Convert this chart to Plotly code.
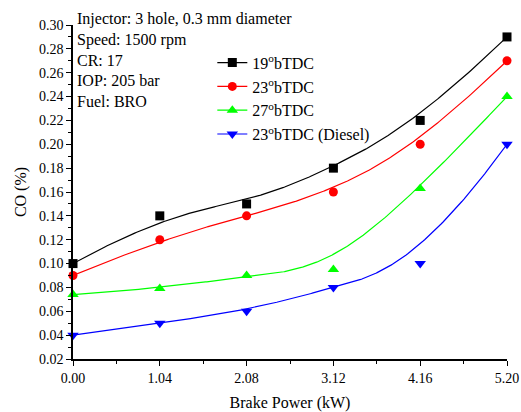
import numpy as np
import plotly.graph_objects as go

# Brake power (kW) and CO emissions (%) for each injection timing
brake_power = [0.00, 1.04, 2.08, 3.12, 4.16, 5.20]
co_19_btdc = [0.10, 0.14, 0.15, 0.18, 0.22, 0.29]
co_23_btdc = [0.09, 0.12, 0.14, 0.16, 0.20, 0.27]
co_27_btdc = [0.074, 0.079, 0.090, 0.095, 0.163, 0.24]
co_23_diesel = [0.04, 0.05, 0.06, 0.08, 0.10, 0.20]

series_names = ["19<sup>o</sup>bTDC", "23<sup>o</sup>bTDC",
                "27<sup>o</sup>bTDC", "23<sup>o</sup>bTDC (Diesel)"]
series_values = [co_19_btdc, co_23_btdc, co_27_btdc, co_23_diesel]
series_colors = ["#000000", "#FF0000", "#00FF00", "#0000FF"]
series_symbols = ["square", "circle", "triangle-up", "triangle-down"]

x_ticks = [0.00, 1.04, 2.08, 3.12, 4.16, 5.20]

info_lines = ["Injector: 3 hole, 0.3 mm diameter", "Speed: 1500 rpm",
              "CR: 17", "IOP: 205 bar", "Fuel: BRO"]

FONT = "Liberation Serif"


def clamped_bspline(xs, ys, degree=3, samples=300):
    """Cubic B-spline using the data points as control points."""
    pts = np.column_stack([xs, ys]).astype(float)
    m = len(pts)
    k = degree
    knots = np.concatenate([np.zeros(k), np.arange(m - k + 1), np.full(k, m - k)]).astype(float)
    t = np.linspace(0, m - k - 1e-9, samples)

    def basis(i, p, tt):
        if p == 0:
            return ((knots[i] <= tt) & (tt < knots[i + 1])).astype(float)
        out = np.zeros_like(tt)
        d1 = knots[i + p] - knots[i]
        if d1 > 0:
            out += (tt - knots[i]) / d1 * basis(i, p - 1, tt)
        d2 = knots[i + p + 1] - knots[i + 1]
        if d2 > 0:
            out += (knots[i + p + 1] - tt) / d2 * basis(i + 1, p - 1, tt)
        return out

    curve = np.zeros((samples, 2))
    for i in range(m):
        curve += basis(i, k, t)[:, None] * pts[i]
    curve = np.vstack([curve, pts[-1]])
    return curve[:, 0], curve[:, 1]


fig = go.Figure()

for idx, (name, vals, col, sym) in enumerate(zip(series_names, series_values,
                                                  series_colors, series_symbols)):
    msize = 9 if sym in ("square", "circle") else 10
    cx, cy = clamped_bspline(brake_power, vals)
    # smoothed curve
    fig.add_trace(go.Scatter(
        x=cx, y=cy, mode="lines", line=dict(color=col, width=1.2),
        showlegend=False, hoverinfo="skip", cliponaxis=False,
    ))
    # measured points
    fig.add_trace(go.Scatter(
        x=brake_power, y=vals, mode="markers", showlegend=False,
        marker=dict(symbol=sym, size=msize, color=col, line=dict(width=0)),
        cliponaxis=False,
    ))
    # legend entry showing line with marker
    fig.add_trace(go.Scatter(
        x=[None], y=[None], mode="lines+markers", name=name,
        line=dict(color=col, width=1.2),
        marker=dict(symbol=sym, size=msize, color=col, line=dict(width=0)),
        legendgroup=f"g{idx}",
    ))

fig.add_annotation(
    x=0.004, y=1.05, xref="paper", yref="paper", xanchor="left", yanchor="top",
    text="<br>".join(info_lines), align="left", showarrow=False,
    font=dict(family=FONT, size=16, color="#000000"),
)

axis_common = dict(
    showline=True, linecolor="#000000", linewidth=1.5, mirror=False,
    showgrid=False, zeroline=False, ticks="outside", ticklen=5, tickwidth=1.2,
    tickcolor="#000000", tickfont=dict(family=FONT, size=14, color="#000000"),
    automargin=False,
)

fig.update_xaxes(
    range=[0, 5.2], tickmode="array", tickvals=x_ticks,
    ticktext=[f"{v:.2f}" for v in x_ticks],
    title=dict(text="Brake Power (kW)", font=dict(family=FONT, size=16, color="#000000"),
               standoff=14),
    minor=dict(ticks="outside", ticklen=3, tickwidth=1, tickcolor="#000000",
               tickmode="array", tickvals=[0.52 + 1.04 * i for i in range(5)]),
    **axis_common,
)
fig.update_yaxes(
    range=[0.02, 0.30], tick0=0.02, dtick=0.02, tickformat=".2f",
    title=dict(text="CO (%)", font=dict(family=FONT, size=16, color="#000000"),
               standoff=8),
    minor=dict(ticks="outside", ticklen=3, tickwidth=1, tickcolor="#000000", dtick=0.01),
    **axis_common,
)

fig.update_layout(
    width=521, height=412,
    margin=dict(l=73, r=14, t=25, b=53),
    paper_bgcolor="#FFFFFF", plot_bgcolor="#FFFFFF",
    font=dict(family=FONT, size=16, color="#000000"),
    showlegend=True,
    legend=dict(
        x=0.321, y=0.938, xanchor="left", yanchor="top",
        bgcolor="rgba(0,0,0,0)", borderwidth=0,
        font=dict(family=FONT, size=16, color="#000000"),
        tracegroupgap=0, itemwidth=30,
    ),
)

fig.write_html("out.html")
